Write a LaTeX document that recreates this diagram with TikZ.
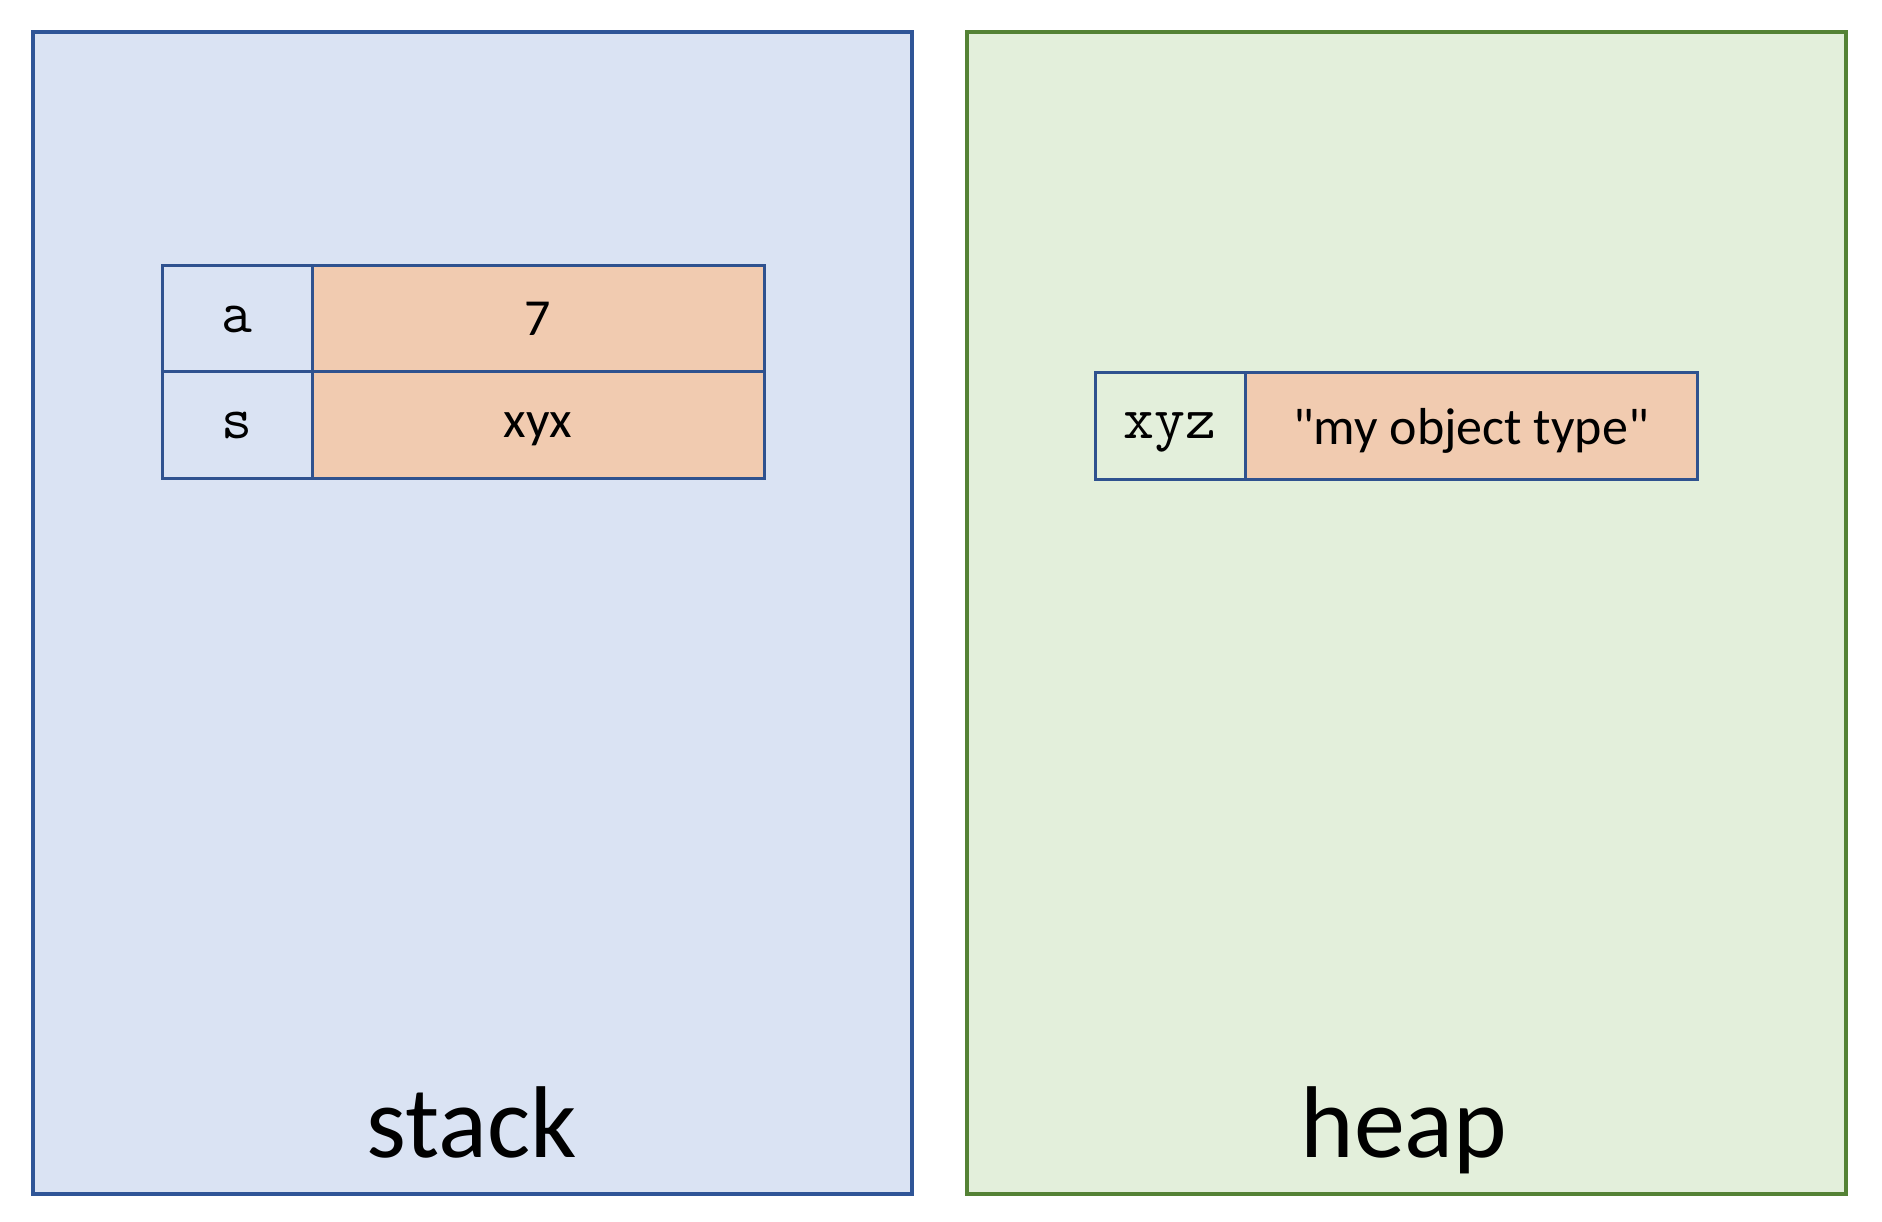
\documentclass[tikz,border=0pt]{standalone}
\usepackage{fontspec}
\setmainfont{Carlito}
\usetikzlibrary{positioning}
\definecolor{stackfill}{HTML}{DAE3F3}
\definecolor{stackline}{HTML}{2F5597}
\definecolor{heapfill}{HTML}{E3EFDB}
\definecolor{heapline}{HTML}{548235}
\definecolor{cellline}{HTML}{2F528F}
\definecolor{valfill}{HTML}{F1CBB0}
\tikzset{every picture/.style={line width=3pt}}
\tikzset{
  region/.style={draw, line width=3.2pt, minimum width=879pt, minimum height=1162pt, inner sep=0pt, outer sep=0pt},
  keycell/.style={draw=cellline, minimum width=150pt, minimum height=106pt, inner sep=0pt, outer sep=0pt, text depth=0pt, font=\ttfamily\fontsize{60}{66}\selectfont},
  valcell/.style={draw=cellline, fill=valfill, minimum width=452pt, minimum height=106pt, inner sep=0pt, outer sep=0pt, text depth=0pt, font=\fontsize{52}{62}\selectfont},
  regionlabel/.style={anchor=base, font=\fontsize{102}{122}\selectfont}
}

\begin{document}
\begin{tikzpicture}[x=1pt,y=-1pt]
    \useasboundingbox (0,0) rectangle (1882,1222);
    % the two memory regions
    \node[region, draw=stackline, fill=stackfill] (stack) at (472.5,613) {};
    \node[region, draw=heapline, fill=heapfill] (heap) at (1406.5,613) {};
    \node[regionlabel] (stacklabel) at (471.5,1157) {stack};
    \node[regionlabel] (heaplabel) at (1404,1157) {heap};
    % variables on the stack
    \node[keycell] (keya) at (237,319) {a};
    \node[valcell, right=0pt of keya] (vala) {7};
    \node[keycell, below=0pt of keya] (keys) {s};
    \node[valcell, right=0pt of keys] (vals) {xyx};
    % object on the heap
    \node[keycell] (keyxyz) at (1170,426) {xyz};
    \node[valcell, right=0pt of keyxyz] (valxyz) {\textquotedbl my object type\textquotedbl};
\end{tikzpicture}
\end{document}
